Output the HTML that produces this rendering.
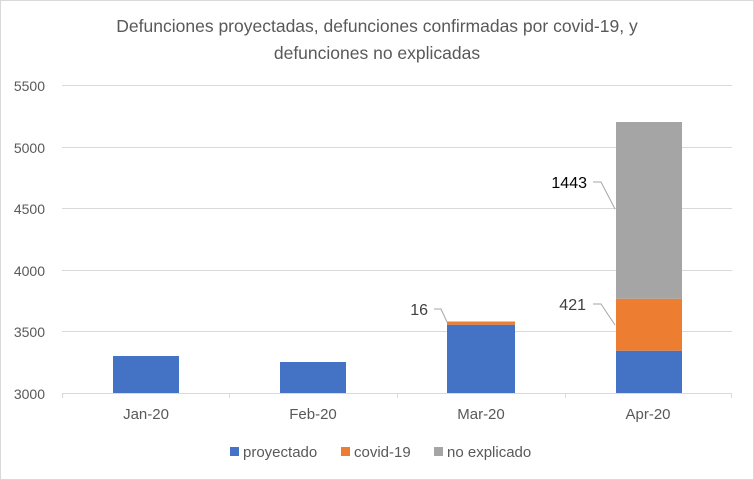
<!DOCTYPE html>
<html><head><style>
body{margin:0;background:#fff}
svg{display:block;font-family:"Liberation Sans",sans-serif}
</style></head><body>
<svg width="754" height="480" xmlns="http://www.w3.org/2000/svg">
<rect x="0.5" y="0.5" width="753" height="479" fill="#fff" stroke="#d9d9d9"/>
<text x="377" y="32" text-anchor="middle" font-size="17.5" fill="#595959">Defunciones proyectadas, defunciones confirmadas por covid-19, y</text>
<text x="377" y="59" text-anchor="middle" font-size="17.5" fill="#595959">defunciones no explicadas</text>
<g stroke="#d9d9d9" stroke-width="1">
<line x1="62" x2="732" y1="85.5" y2="85.5"/>
<line x1="62" x2="732" y1="147.5" y2="147.5"/>
<line x1="62" x2="732" y1="208.5" y2="208.5"/>
<line x1="62" x2="732" y1="270.5" y2="270.5"/>
<line x1="62" x2="732" y1="331.5" y2="331.5"/>
<line x1="62" x2="732" y1="393.5" y2="393.5"/>
<line x1="62.5" x2="62.5" y1="393" y2="398"/>
<line x1="229.5" x2="229.5" y1="393" y2="398"/>
<line x1="397.5" x2="397.5" y1="393" y2="398"/>
<line x1="565.5" x2="565.5" y1="393" y2="398"/>
<line x1="731.5" x2="731.5" y1="393" y2="398"/>
</g>
<g font-size="14" fill="#595959" text-anchor="end">
<text x="45" y="91">5500</text>
<text x="45" y="153">5000</text>
<text x="45" y="214">4500</text>
<text x="45" y="276">4000</text>
<text x="45" y="337">3500</text>
<text x="45" y="399">3000</text>
</g>
<rect x="113" y="356" width="66" height="37" fill="#4472c4"/>
<rect x="280" y="362" width="66" height="31" fill="#4472c4"/>
<rect x="447" y="324.7" width="68" height="68.3" fill="#4472c4"/>
<rect x="447" y="321.5" width="68" height="3.2" fill="#ed7d31"/>
<rect x="616" y="350.7" width="66" height="42.3" fill="#4472c4"/>
<rect x="616" y="298.7" width="66" height="52" fill="#ed7d31"/>
<rect x="616" y="122" width="66" height="176.7" fill="#a5a5a5"/>
<g stroke="#a6a6a6" fill="none" stroke-width="1">
<polyline points="434,309 441,309 447,322"/>
<polyline points="593,304 601,304 615,325"/>
<polyline points="593,182 601,182 615,209"/>
</g>
<g font-size="16" fill="#404040" text-anchor="end">
<text x="428" y="315">16</text>
<text x="586" y="310">421</text>
<text x="587" y="188" fill="#000">1443</text>
</g>
<g font-size="15" fill="#595959" text-anchor="middle">
<text x="146" y="419">Jan-20</text>
<text x="313" y="419">Feb-20</text>
<text x="481" y="419">Mar-20</text>
<text x="648" y="419">Apr-20</text>
</g>
<g font-size="15" fill="#595959">
<rect x="230" y="447" width="9" height="9" fill="#4472c4"/>
<text x="243" y="457">proyectado</text>
<rect x="341" y="447" width="9" height="9" fill="#ed7d31"/>
<text x="354" y="457">covid-19</text>
<rect x="434" y="447" width="9" height="9" fill="#a5a5a5"/>
<text x="447" y="457">no explicado</text>
</g>
</svg>
</body></html>
